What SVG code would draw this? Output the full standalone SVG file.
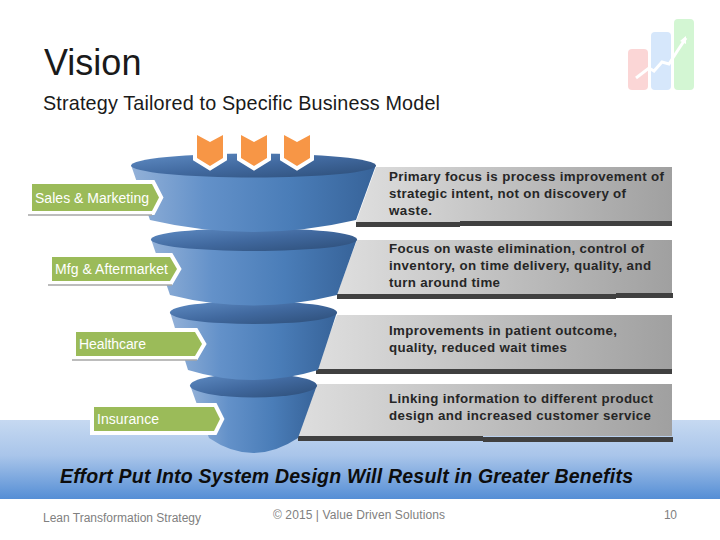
<svg xmlns="http://www.w3.org/2000/svg" width="720" height="540" viewBox="0 0 720 540">
<style>
text{font-family:"Liberation Sans",Arial,sans-serif}
.panel{fill:url(#gp)}
.bar{fill:#404040}
.body{fill:url(#gb)}
.rim{fill:url(#gr)}
.tag{fill:#9bbb59;stroke:#fff;stroke-width:8;paint-order:stroke}
.rule{stroke:#a6a6a6;stroke-width:1.5}
.lab{font-size:14px;fill:#fff;stroke:none}
.desc{font-size:13.300px;font-weight:bold;fill:#262626}
.chev{fill:#f79646;stroke:#fff;stroke-width:8;paint-order:stroke}
.foot{font-size:12px;fill:#808080}
</style>
<defs>
<linearGradient id="gband" x1="0" y1="0" x2="0" y2="1"><stop offset="0" stop-color="#c6d9f1"/><stop offset=".45" stop-color="#a9c5ea"/><stop offset="1" stop-color="#558ed5"/></linearGradient>
<linearGradient id="gp" x1="0" y1="0" x2="1" y2="0"><stop offset="0" stop-color="#dedede"/><stop offset="1" stop-color="#a0a0a0"/></linearGradient>
<linearGradient id="gb" x1="0" y1="0" x2="1" y2="0"><stop offset="0" stop-color="#93b1d8"/><stop offset=".3" stop-color="#6391c9"/><stop offset=".65" stop-color="#4a7db8"/><stop offset="1" stop-color="#376399"/></linearGradient>
<linearGradient id="gr" x1="0" y1="0" x2="1" y2="1"><stop offset="0" stop-color="#5f8cc4"/><stop offset=".5" stop-color="#41699f"/><stop offset="1" stop-color="#2c4d77"/></linearGradient>
</defs>
<rect width="720" height="540" fill="#fff"/>
<rect y="420" width="720" height="79" fill="url(#gband)"/>
<g id="logo" opacity=".85">
<rect x="628" y="49" width="20" height="41" rx="4" fill="#fbd0d0"/>
<rect x="651" y="32" width="20" height="58" rx="4" fill="#cfe3fb"/>
<rect x="674" y="19" width="20" height="71" rx="4" fill="#ccf5cc"/>
<path d="M636 78L649 68L654 71L662 62L669 64L678 50L686 38" fill="none" stroke="#fff" stroke-width="3"/>
<path d="M680 41L686 36L686 44Z" fill="#fff"/>
</g>
<g id="title">
<text x="44" y="75" font-size="36" fill="#1a1a1a">Vision</text>
<text x="43" y="110" font-size="19.800" fill="#1a1a1a" textLength="397">Strategy Tailored to Specific Business Model</text>
</g>
<g id="panels">
<path class="panel" d="M376 167H672V222H356Z"/><path class="bar" d="M356 222H460V227H356Z"/><path class="bar" d="M460 221H672V226H460Z"/>
<path class="panel" d="M357 240H672V294H337Z"/><path class="bar" d="M337 294H616V299H337Z"/><path class="bar" d="M616 293H673V298H616Z"/>
<path class="panel" d="M337 315H672V369H316Z"/><path class="bar" d="M316 369H672V374H316Z"/>
<path class="panel" d="M317 384H672V436H298Z"/><path class="bar" d="M298 436H483V441H298Z"/><path class="bar" d="M483 437H673V442H483Z"/>
</g>
<g id="funnel-4"><path class="body" d="M190 385L209 438Q253 468 298 438L317 385Z"/><ellipse class="rim" cx="253.500" cy="385.500" rx="63.500" ry="12"/></g>
<g id="funnel-3"><path class="body" d="M170 312L188 370Q253 390 318 370L337 312Z"/><ellipse class="rim" cx="253.500" cy="312.500" rx="83.500" ry="11.500"/></g>
<g id="funnel-2"><path class="body" d="M151 239L170 295Q253 316 337 295L357 239Z"/><ellipse class="rim" cx="254" cy="239.500" rx="103" ry="11.500"/></g>
<g id="funnel-1"><path class="body" d="M131 165L150 220Q253 244 356 220L376 165Z"/><ellipse class="rim" cx="253.500" cy="165.500" rx="122.500" ry="12"/></g>
<g id="chevrons">
<path class="chev" d="M197 135L210 142L223 135V158L210 166L197 158Z"/>
<path class="chev" d="M241 135L254 142L267 135V158L254 166L241 158Z"/>
<path class="chev" d="M284 135L297 142L310 135V158L297 166L284 158Z"/>
</g>
<g id="sales"><path class="tag" d="M32 184H152L159 197.500L152 211H32"/><line class="rule" x1="28" y1="215" x2="152" y2="215"/><text class="lab" x="35" y="203" textLength="114">Sales &amp; Marketing</text></g>
<g id="mfg"><path class="tag" d="M52 257H170L177 269L170 281H52"/><line class="rule" x1="48" y1="285" x2="172" y2="285"/><text class="lab" x="55" y="274" textLength="113">Mfg &amp; Aftermarket</text></g>
<g id="healthcare"><path class="tag" d="M76 332H195L202 344L195 356H76"/><line class="rule" x1="72" y1="360" x2="197" y2="360"/><text class="lab" x="79" y="349" textLength="67">Healthcare</text></g>
<g id="insurance"><path class="tag" d="M94 407H214L220 419L214 431H94Z"/><text class="lab" x="97" y="424" textLength="62">Insurance</text></g>
<g id="descriptions">
<text class="desc" x="389" y="181" textLength="275">Primary focus is process improvement of</text>
<text class="desc" x="389" y="198" textLength="237">strategic intent, not on discovery of</text>
<text class="desc" x="389" y="215" textLength="43">waste.</text>
<text class="desc" x="389" y="253" textLength="255">Focus on waste elimination, control of</text>
<text class="desc" x="389" y="270" textLength="262">inventory, on time delivery, quality, and</text>
<text class="desc" x="389" y="287" textLength="111">turn around time</text>
<text class="desc" x="389" y="335" textLength="228">Improvements in patient outcome,</text>
<text class="desc" x="389" y="352" textLength="178">quality, reduced wait times</text>
<text class="desc" x="389" y="403" textLength="264">Linking information to different product</text>
<text class="desc" x="389" y="420" textLength="262">design and increased customer service</text>
</g>
<text id="banner" x="60" y="483" font-size="19.500" font-weight="bold" font-style="italic" fill="#0d0d0d" textLength="573">Effort Put Into System Design Will Result in Greater Benefits</text>
<g id="footer">
<text class="foot" x="43" y="522" textLength="158">Lean Transformation Strategy</text>
<text class="foot" x="273" y="519" textLength="172">© 2015 | Value Driven Solutions</text>
<text class="foot" x="664" y="519" textLength="13">10</text>
</g>
</svg>
